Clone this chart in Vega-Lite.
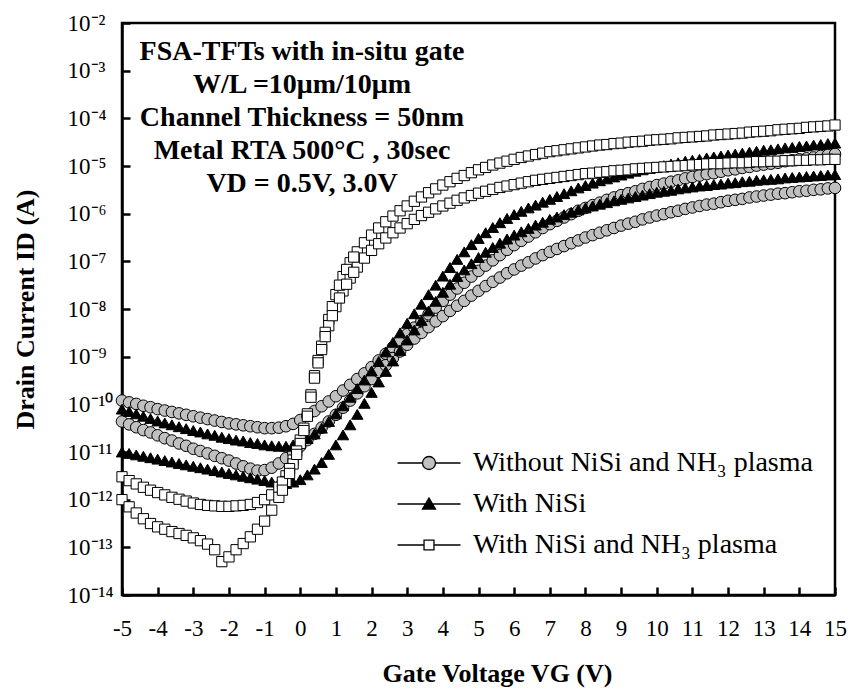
{
  "$schema": "https://vega.github.io/schema/vega-lite/v6.json",
  "width": 713,
  "height": 572,
  "autosize": "none",
  "padding": {"left": 122, "top": 23, "right": 17, "bottom": 100},
  "background": "white",
  "datasets": {
    "iv": [
      {"v":-5,"c3":1.2e-10,"c05":4.37e-11,"t3":7.94e-11,"t05":1e-11,"s3":3.02e-12,"s05":1e-12},
      {"v":-4.8,"c3":1.1e-10,"c05":3.8e-11,"t3":7.08e-11,"t05":9.33e-12,"s3":2.51e-12,"s05":7.08e-13},
      {"v":-4.6,"c3":1.02e-10,"c05":3.31e-11,"t3":6.31e-11,"t05":8.71e-12,"s3":2.14e-12,"s05":5.25e-13},
      {"v":-4.4,"c3":9.33e-11,"c05":2.88e-11,"t3":5.62e-11,"t05":8.13e-12,"s3":1.82e-12,"s05":3.98e-13},
      {"v":-4.2,"c3":8.71e-11,"c05":2.57e-11,"t3":5.01e-11,"t05":7.59e-12,"s3":1.58e-12,"s05":3.16e-13},
      {"v":-4,"c3":7.94e-11,"c05":2.24e-11,"t3":4.47e-11,"t05":7.08e-12,"s3":1.41e-12,"s05":2.69e-13},
      {"v":-3.8,"c3":7.41e-11,"c05":1.95e-11,"t3":4.07e-11,"t05":6.61e-12,"s3":1.26e-12,"s05":2.4e-13},
      {"v":-3.6,"c3":6.92e-11,"c05":1.74e-11,"t3":3.72e-11,"t05":6.17e-12,"s3":1.12e-12,"s05":2.14e-13},
      {"v":-3.4,"c3":6.46e-11,"c05":1.51e-11,"t3":3.39e-11,"t05":5.75e-12,"s3":1.02e-12,"s05":1.95e-13},
      {"v":-3.2,"c3":6.03e-11,"c05":1.35e-11,"t3":3.09e-11,"t05":5.37e-12,"s3":9.33e-13,"s05":1.78e-13},
      {"v":-3,"c3":5.62e-11,"c05":1.17e-11,"t3":2.82e-11,"t05":5.01e-12,"s3":8.51e-13,"s05":1.58e-13},
      {"v":-2.8,"c3":5.25e-11,"c05":1.05e-11,"t3":2.63e-11,"t05":4.68e-12,"s3":7.94e-13,"s05":1.38e-13},
      {"v":-2.6,"c3":4.9e-11,"c05":9.33e-12,"t3":2.4e-11,"t05":4.37e-12,"s3":7.59e-13,"s05":1.17e-13},
      {"v":-2.4,"c3":4.57e-11,"c05":8.32e-12,"t3":2.24e-11,"t05":4.07e-12,"s3":7.41e-13,"s05":8.91e-14},
      {"v":-2.2,"c3":4.27e-11,"c05":7.41e-12,"t3":2.04e-11,"t05":3.8e-12,"s3":7.24e-13,"s05":5.01e-14},
      {"v":-2,"c3":3.98e-11,"c05":6.61e-12,"t3":1.91e-11,"t05":3.55e-12,"s3":7.24e-13,"s05":6.31e-14},
      {"v":-1.8,"c3":3.8e-11,"c05":5.75e-12,"t3":1.78e-11,"t05":3.31e-12,"s3":7.41e-13,"s05":8.91e-14},
      {"v":-1.6,"c3":3.63e-11,"c05":5.01e-12,"t3":1.7e-11,"t05":3.09e-12,"s3":7.59e-13,"s05":1.2e-13},
      {"v":-1.4,"c3":3.47e-11,"c05":4.47e-12,"t3":1.58e-11,"t05":2.88e-12,"s3":7.94e-13,"s05":1.66e-13},
      {"v":-1.2,"c3":3.31e-11,"c05":4.07e-12,"t3":1.51e-11,"t05":2.69e-12,"s3":8.71e-13,"s05":2.4e-13},
      {"v":-1,"c3":3.16e-11,"c05":4.17e-12,"t3":1.41e-11,"t05":2.51e-12,"s3":1e-12,"s05":3.55e-13},
      {"v":-0.8,"c3":3.16e-11,"c05":4.68e-12,"t3":1.35e-11,"t05":2.34e-12,"s3":1.26e-12,"s05":6.03e-13},
      {"v":-0.6,"c3":3.24e-11,"c05":5.75e-12,"t3":1.32e-11,"t05":2.24e-12,"s3":1.82e-12,"s05":1.12e-12},
      {"v":-0.4,"c3":3.47e-11,"c05":7.41e-12,"t3":1.32e-11,"t05":2.19e-12,"s3":3.16e-12,"s05":2.4e-12},
      {"v":-0.2,"c3":3.89e-11,"c05":9.77e-12,"t3":1.41e-11,"t05":2.34e-12,"s3":6.76e-12,"s05":5.62e-12},
      {"v":0,"c3":4.68e-11,"c05":1.32e-11,"t3":1.58e-11,"t05":2.63e-12,"s3":1.78e-11,"s05":1.51e-11},
      {"v":0.2,"c3":5.75e-11,"c05":1.78e-11,"t3":1.91e-11,"t05":3.31e-12,"s3":6.31e-11,"s05":5.62e-11},
      {"v":0.4,"c3":7.24e-11,"c05":2.4e-11,"t3":2.4e-11,"t05":4.37e-12,"s3":3.98e-10,"s05":3.55e-10},
      {"v":0.6,"c3":9.12e-11,"c05":3.24e-11,"t3":3.16e-11,"t05":6.03e-12,"s3":1.66e-9,"s05":1.41e-9},
      {"v":0.8,"c3":1.15e-10,"c05":4.37e-11,"t3":4.37e-11,"t05":8.91e-12,"s3":6.03e-9,"s05":4.47e-9},
      {"v":1,"c3":1.48e-10,"c05":6.03e-11,"t3":6.31e-11,"t05":1.41e-11,"s3":2e-8,"s05":1.12e-8},
      {"v":1.2,"c3":1.95e-10,"c05":8.51e-11,"t3":9.33e-11,"t05":2.29e-11,"s3":4.79e-8,"s05":2.4e-8},
      {"v":1.4,"c3":2.57e-10,"c05":1.2e-10,"t3":1.41e-10,"t05":3.72e-11,"s3":9.33e-8,"s05":4.47e-8},
      {"v":1.6,"c3":3.39e-10,"c05":1.7e-10,"t3":2.14e-10,"t05":6.17e-11,"s3":1.58e-7,"s05":7.59e-8},
      {"v":1.8,"c3":4.47e-10,"c05":2.4e-10,"t3":3.24e-10,"t05":1.05e-10,"s3":2.45e-7,"s05":1.17e-7},
      {"v":2,"c3":6.03e-10,"c05":3.39e-10,"t3":5.01e-10,"t05":1.78e-10,"s3":3.55e-7,"s05":1.7e-7},
      {"v":2.2,"c3":8.32e-10,"c05":4.79e-10,"t3":7.94e-10,"t05":2.95e-10,"s3":5.01e-7,"s05":2.34e-7},
      {"v":2.4,"c3":1.15e-9,"c05":6.61e-10,"t3":1.26e-9,"t05":4.9e-10,"s3":6.76e-7,"s05":3.09e-7},
      {"v":2.6,"c3":1.58e-9,"c05":9.33e-10,"t3":2e-9,"t05":8.13e-10,"s3":8.91e-7,"s05":3.98e-7},
      {"v":2.8,"c3":2.14e-9,"c05":1.29e-9,"t3":3.16e-9,"t05":1.35e-9,"s3":1.15e-6,"s05":5.01e-7},
      {"v":3,"c3":2.95e-9,"c05":1.78e-9,"t3":5.01e-9,"t05":2.24e-9,"s3":1.45e-6,"s05":6.17e-7},
      {"v":3.2,"c3":4.07e-9,"c05":2.4e-9,"t3":7.94e-9,"t05":3.63e-9,"s3":1.82e-6,"s05":7.59e-7},
      {"v":3.4,"c3":5.62e-9,"c05":3.16e-9,"t3":1.26e-8,"t05":5.75e-9,"s3":2.24e-6,"s05":9.12e-7},
      {"v":3.6,"c3":7.76e-9,"c05":4.17e-9,"t3":2e-8,"t05":9.12e-9,"s3":2.75e-6,"s05":1.07e-6},
      {"v":3.8,"c3":1.07e-8,"c05":5.5e-9,"t3":3.16e-8,"t05":1.45e-8,"s3":3.31e-6,"s05":1.26e-6},
      {"v":4,"c3":1.48e-8,"c05":7.08e-9,"t3":4.9e-8,"t05":2.24e-8,"s3":3.98e-6,"s05":1.45e-6},
      {"v":4.2,"c3":2e-8,"c05":9.12e-9,"t3":7.41e-8,"t05":3.31e-8,"s3":4.68e-6,"s05":1.66e-6},
      {"v":4.4,"c3":2.69e-8,"c05":1.17e-8,"t3":1.1e-7,"t05":4.79e-8,"s3":5.5e-6,"s05":1.91e-6},
      {"v":4.6,"c3":3.55e-8,"c05":1.48e-8,"t3":1.58e-7,"t05":6.61e-8,"s3":6.31e-6,"s05":2.14e-6},
      {"v":4.8,"c3":4.79e-8,"c05":1.91e-8,"t3":2.24e-7,"t05":8.91e-8,"s3":7.24e-6,"s05":2.4e-6},
      {"v":5,"c3":6.31e-8,"c05":2.4e-8,"t3":3.02e-7,"t05":1.2e-7,"s3":8.32e-6,"s05":2.69e-6},
      {"v":5.2,"c3":8.13e-8,"c05":3.02e-8,"t3":3.98e-7,"t05":1.55e-7,"s3":9.33e-6,"s05":2.95e-6},
      {"v":5.4,"c3":1.05e-7,"c05":3.72e-8,"t3":5.13e-7,"t05":1.95e-7,"s3":1.05e-5,"s05":3.24e-6},
      {"v":5.6,"c3":1.35e-7,"c05":4.57e-8,"t3":6.46e-7,"t05":2.4e-7,"s3":1.15e-5,"s05":3.55e-6},
      {"v":5.8,"c3":1.74e-7,"c05":5.62e-8,"t3":7.94e-7,"t05":2.95e-7,"s3":1.26e-5,"s05":3.8e-6},
      {"v":6,"c3":2.19e-7,"c05":6.76e-8,"t3":9.55e-7,"t05":3.55e-7,"s3":1.38e-5,"s05":4.07e-6},
      {"v":6.2,"c3":2.69e-7,"c05":8.13e-8,"t3":1.12e-6,"t05":4.17e-7,"s3":1.51e-5,"s05":4.37e-6},
      {"v":6.4,"c3":3.31e-7,"c05":9.55e-8,"t3":1.32e-6,"t05":4.9e-7,"s3":1.62e-5,"s05":4.68e-6},
      {"v":6.6,"c3":4.07e-7,"c05":1.15e-7,"t3":1.51e-6,"t05":5.75e-7,"s3":1.74e-5,"s05":5.01e-6},
      {"v":6.8,"c3":5.01e-7,"c05":1.35e-7,"t3":1.74e-6,"t05":6.61e-7,"s3":1.86e-5,"s05":5.25e-6},
      {"v":7,"c3":6.03e-7,"c05":1.58e-7,"t3":2e-6,"t05":7.59e-7,"s3":2e-5,"s05":5.5e-6},
      {"v":7.2,"c3":7.08e-7,"c05":1.82e-7,"t3":2.29e-6,"t05":8.51e-7,"s3":2.09e-5,"s05":5.75e-6},
      {"v":7.4,"c3":8.32e-7,"c05":2.09e-7,"t3":2.63e-6,"t05":9.55e-7,"s3":2.19e-5,"s05":6.03e-6},
      {"v":7.6,"c3":9.77e-7,"c05":2.4e-7,"t3":3.02e-6,"t05":1.07e-6,"s3":2.29e-5,"s05":6.31e-6},
      {"v":7.8,"c3":1.15e-6,"c05":2.75e-7,"t3":3.47e-6,"t05":1.2e-6,"s3":2.4e-5,"s05":6.61e-6},
      {"v":8,"c3":1.32e-6,"c05":3.16e-7,"t3":3.89e-6,"t05":1.32e-6,"s3":2.51e-5,"s05":6.92e-6},
      {"v":8.2,"c3":1.51e-6,"c05":3.55e-7,"t3":4.37e-6,"t05":1.45e-6,"s3":2.63e-5,"s05":7.08e-6},
      {"v":8.4,"c3":1.7e-6,"c05":3.98e-7,"t3":4.9e-6,"t05":1.58e-6,"s3":2.75e-5,"s05":7.41e-6},
      {"v":8.6,"c3":1.95e-6,"c05":4.47e-7,"t3":5.37e-6,"t05":1.7e-6,"s3":2.82e-5,"s05":7.59e-6},
      {"v":8.8,"c3":2.19e-6,"c05":5.01e-7,"t3":5.89e-6,"t05":1.86e-6,"s3":2.95e-5,"s05":7.94e-6},
      {"v":9,"c3":2.45e-6,"c05":5.62e-7,"t3":6.46e-6,"t05":2e-6,"s3":3.02e-5,"s05":8.13e-6},
      {"v":9.2,"c3":2.69e-6,"c05":6.17e-7,"t3":7.08e-6,"t05":2.14e-6,"s3":3.16e-5,"s05":8.32e-6},
      {"v":9.4,"c3":2.95e-6,"c05":6.76e-7,"t3":7.76e-6,"t05":2.29e-6,"s3":3.24e-5,"s05":8.71e-6},
      {"v":9.6,"c3":3.31e-6,"c05":7.59e-7,"t3":8.32e-6,"t05":2.45e-6,"s3":3.31e-5,"s05":8.91e-6},
      {"v":9.8,"c3":3.63e-6,"c05":8.32e-7,"t3":8.91e-6,"t05":2.63e-6,"s3":3.47e-5,"s05":9.12e-6},
      {"v":10,"c3":3.98e-6,"c05":9.12e-7,"t3":9.55e-6,"t05":2.82e-6,"s3":3.55e-5,"s05":9.33e-6},
      {"v":10.2,"c3":4.27e-6,"c05":9.77e-7,"t3":1.02e-5,"t05":2.95e-6,"s3":3.63e-5,"s05":9.55e-6},
      {"v":10.4,"c3":4.68e-6,"c05":1.07e-6,"t3":1.1e-5,"t05":3.09e-6,"s3":3.72e-5,"s05":9.77e-6},
      {"v":10.6,"c3":5.01e-6,"c05":1.15e-6,"t3":1.17e-5,"t05":3.31e-6,"s3":3.89e-5,"s05":1e-5},
      {"v":10.8,"c3":5.5e-6,"c05":1.26e-6,"t3":1.26e-5,"t05":3.47e-6,"s3":3.98e-5,"s05":1.02e-5},
      {"v":11,"c3":5.89e-6,"c05":1.35e-6,"t3":1.32e-5,"t05":3.63e-6,"s3":4.07e-5,"s05":1.05e-5},
      {"v":11.2,"c3":6.31e-6,"c05":1.45e-6,"t3":1.38e-5,"t05":3.8e-6,"s3":4.17e-5,"s05":1.07e-5},
      {"v":11.4,"c3":6.76e-6,"c05":1.55e-6,"t3":1.48e-5,"t05":3.89e-6,"s3":4.27e-5,"s05":1.1e-5},
      {"v":11.6,"c3":7.08e-6,"c05":1.62e-6,"t3":1.55e-5,"t05":4.07e-6,"s3":4.47e-5,"s05":1.12e-5},
      {"v":11.8,"c3":7.59e-6,"c05":1.74e-6,"t3":1.62e-5,"t05":4.17e-6,"s3":4.57e-5,"s05":1.12e-5},
      {"v":12,"c3":8.13e-6,"c05":1.86e-6,"t3":1.7e-5,"t05":4.37e-6,"s3":4.68e-5,"s05":1.15e-5},
      {"v":12.2,"c3":8.51e-6,"c05":1.95e-6,"t3":1.78e-5,"t05":4.47e-6,"s3":4.79e-5,"s05":1.17e-5},
      {"v":12.4,"c3":9.12e-6,"c05":2.04e-6,"t3":1.86e-5,"t05":4.68e-6,"s3":4.9e-5,"s05":1.17e-5},
      {"v":12.6,"c3":9.55e-6,"c05":2.19e-6,"t3":1.95e-5,"t05":4.79e-6,"s3":5.13e-5,"s05":1.2e-5},
      {"v":12.8,"c3":1.02e-5,"c05":2.29e-6,"t3":2.04e-5,"t05":5.01e-6,"s3":5.25e-5,"s05":1.23e-5},
      {"v":13,"c3":1.07e-5,"c05":2.4e-6,"t3":2.14e-5,"t05":5.13e-6,"s3":5.37e-5,"s05":1.23e-5},
      {"v":13.2,"c3":1.12e-5,"c05":2.51e-6,"t3":2.19e-5,"t05":5.25e-6,"s3":5.5e-5,"s05":1.26e-5},
      {"v":13.4,"c3":1.17e-5,"c05":2.63e-6,"t3":2.29e-5,"t05":5.37e-6,"s3":5.75e-5,"s05":1.26e-5},
      {"v":13.6,"c3":1.26e-5,"c05":2.69e-6,"t3":2.4e-5,"t05":5.62e-6,"s3":5.89e-5,"s05":1.29e-5},
      {"v":13.8,"c3":1.32e-5,"c05":2.82e-6,"t3":2.45e-5,"t05":5.75e-6,"s3":6.03e-5,"s05":1.29e-5},
      {"v":14,"c3":1.38e-5,"c05":2.95e-6,"t3":2.57e-5,"t05":5.89e-6,"s3":6.17e-5,"s05":1.32e-5},
      {"v":14.2,"c3":1.45e-5,"c05":3.02e-6,"t3":2.63e-5,"t05":6.03e-6,"s3":6.46e-5,"s05":1.32e-5},
      {"v":14.4,"c3":1.51e-5,"c05":3.16e-6,"t3":2.75e-5,"t05":6.17e-6,"s3":6.61e-5,"s05":1.35e-5},
      {"v":14.6,"c3":1.62e-5,"c05":3.24e-6,"t3":2.82e-5,"t05":6.31e-6,"s3":6.76e-5,"s05":1.35e-5},
      {"v":14.8,"c3":1.7e-5,"c05":3.39e-6,"t3":2.95e-5,"t05":6.46e-6,"s3":6.92e-5,"s05":1.38e-5},
      {"v":15,"c3":1.78e-5,"c05":3.47e-6,"t3":3.02e-5,"t05":6.61e-6,"s3":7.24e-5,"s05":1.38e-5},
      {"v":-0.5,"s3":2.34e-12,"s05":1.58e-12},
      {"v":-0.3,"s3":4.47e-12,"s05":3.55e-12},
      {"v":-0.1,"s3":1.05e-11,"s05":8.91e-12},
      {"v":0.1,"s3":3.16e-11,"s05":2.82e-11},
      {"v":0.3,"s3":1.58e-10,"s05":1.41e-10},
      {"v":0.5,"s3":8.32e-10,"s05":7.41e-10},
      {"v":0.7,"s3":3.24e-9,"s05":2.63e-9},
      {"v":0.9,"s3":1.12e-8,"s05":7.24e-9},
      {"v":1.1,"s3":3.16e-8,"s05":1.7e-8},
      {"v":1.3,"s3":6.76e-8,"s05":3.31e-8},
      {"v":1.5,"s3":1.23e-7,"s05":5.89e-8}
    ]
  },
  "title": {
    "text": ["FSA-TFTs with in-situ gate", "W/L =10μm/10μm", "Channel Thickness = 50nm", "Metal RTA 500°C , 30sec", "VD = 0.5V, 3.0V"],
    "anchor": "start",
    "frame": "group",
    "orient": "top",
    "align": "center",
    "baseline": "top",
    "offset": 0,
    "dx": 180,
    "dy": 186,
    "lineHeight": 33,
    "font": "Liberation Serif",
    "fontSize": 28,
    "fontWeight": "bold",
    "color": "black"
  },
  "encoding": {
    "x": {
      "field": "v",
      "type": "quantitative",
      "scale": {"domain": [-5, 15], "nice": false, "zero": false},
      "axis": {
        "title": "Gate Voltage VG (V)",
        "titleX": 375,
        "values": [-5,-4,-3,-2,-1,0,1,2,3,4,5,6,7,8,9,10,11,12,13,14,15],
        "labelExpr": "'' + datum.value",
        "labelFont": "Liberation Serif",
        "labelFontSize": 23,
        "labelPadding": 30,
        "titlePadding": 20,
        "labelFlush": false,
        "labelOverlap": false
      }
    },
    "y": {
      "field": "I",
      "type": "quantitative",
      "scale": {"type": "log", "domain": [1e-14, 0.01], "nice": false},
      "axis": {
        "title": "Drain Current ID (A)",
        "values": [1e-14,1e-13,1e-12,1e-11,1e-10,1e-9,1e-8,1e-7,1e-6,1e-5,1e-4,1e-3,0.01],
        "labelExpr": "'10' + ['⁻²','⁻³','⁻⁴','⁻⁵','⁻⁶','⁻⁷','⁻⁸','⁻⁹','⁻¹⁰','⁻¹¹','⁻¹²','⁻¹³','⁻¹⁴'][round(-log(datum.value)/LN10) - 2]",
        "labelFont": "Liberation Serif",
        "labelFontSize": 23,
        "labelAlign": "left",
        "labelBaseline": "middle",
        "labelPadding": 63,
        "titlePadding": 29,
        "labelOverlap": false
      }
    },
    "detail": {"field": "curve"}
  },
  "layer": [
    {
      "data": {"name": "iv"},
      "transform": [{"fold": ["c3", "c05"], "as": ["curve", "I"]}],
      "mark": {"type": "point", "shape": "circle", "filled": true, "fill": "#c0c0c0", "size": 135, "stroke": "black", "strokeWidth": 1, "opacity": 1}
    },
    {
      "data": {"name": "iv"},
      "transform": [{"fold": ["t3", "t05"], "as": ["curve", "I"]}],
      "mark": {"type": "point", "shape": "triangle-up", "filled": true, "fill": "black", "size": 130, "stroke": "black", "strokeWidth": 1, "opacity": 1}
    },
    {
      "data": {"name": "iv"},
      "transform": [{"fold": ["s3", "s05"], "as": ["curve", "I"]}],
      "mark": {"type": "point", "shape": "square", "filled": true, "fill": "white", "size": 105, "stroke": "black", "strokeWidth": 1, "opacity": 1}
    },
    {
      "data": {"values": [{"dev": "Without NiSi and NH₃ plasma"}, {"dev": "With NiSi"}, {"dev": "With NiSi and NH₃ plasma"}]},
      "transform": [{"filter": "false"}],
      "mark": {"type": "point", "filled": true, "size": 196, "strokeWidth": 1.3, "opacity": 1},
      "encoding": {
        "x": {"datum": 0},
        "y": {"datum": 1e-10},
        "detail": {"value": null},
        "shape": {
          "field": "dev",
          "type": "nominal",
          "scale": {
            "domain": ["Without NiSi and NH₃ plasma", "With NiSi", "With NiSi and NH₃ plasma"],
            "range": [
              "M-4.5,0L-0.93,0M0.93,0L4.5,0M-0.93,0A0.93,0.93,0,1,1,0.93,0A0.93,0.93,0,1,1,-0.93,0Z",
              "M-4.5,0L4.5,0M-0.93,0.72L0.93,0.72L0,-0.85Z",
              "M-4.5,0L-0.71,0M0.71,0L4.5,0M-0.71,-0.71L0.71,-0.71L0.71,0.71L-0.71,0.71Z"
            ]
          },
          "legend": {
            "title": null,
            "orient": "none",
            "legendX": 293,
            "legendY": 426,
            "padding": 0,
            "symbolSize": 196,
            "symbolStrokeWidth": 1.3,
            "symbolOpacity": 1,
            "labelFont": "Liberation Serif",
            "labelFontSize": 28,
            "labelColor": "black",
            "labelOffset": 30,
            "labelLimit": 0,
            "rowPadding": 13
          }
        },
        "fill": {
          "field": "dev",
          "type": "nominal",
          "scale": {
            "domain": ["Without NiSi and NH₃ plasma", "With NiSi", "With NiSi and NH₃ plasma"],
            "range": ["#c0c0c0", "black", "white"]
          },
          "legend": {
            "title": null,
            "orient": "none",
            "legendX": 293,
            "legendY": 426,
            "padding": 0,
            "symbolSize": 196,
            "symbolStrokeWidth": 1.3,
            "symbolOpacity": 1,
            "labelFont": "Liberation Serif",
            "labelFontSize": 28,
            "labelColor": "black",
            "labelOffset": 30,
            "labelLimit": 0,
            "rowPadding": 13
          }
        },
        "stroke": {
          "field": "dev",
          "type": "nominal",
          "scale": {
            "domain": ["Without NiSi and NH₃ plasma", "With NiSi", "With NiSi and NH₃ plasma"],
            "range": ["black", "black", "black"]
          },
          "legend": {
            "title": null,
            "orient": "none",
            "legendX": 293,
            "legendY": 426,
            "padding": 0,
            "symbolSize": 196,
            "symbolStrokeWidth": 1.3,
            "symbolOpacity": 1,
            "labelFont": "Liberation Serif",
            "labelFontSize": 28,
            "labelColor": "black",
            "labelOffset": 30,
            "labelLimit": 0,
            "rowPadding": 13
          }
        }
      }
    }
  ],
  "config": {
    "view": {"stroke": "black", "strokeWidth": 2.5},
    "font": "Liberation Serif",
    "axis": {
      "grid": false,
      "domainColor": "black",
      "domainWidth": 2.5,
      "tickColor": "black",
      "tickWidth": 2.5,
      "tickSize": -8,
      "labelColor": "black",
      "titleColor": "black",
      "labelFont": "Liberation Serif",
      "titleFont": "Liberation Serif",
      "labelFontSize": 23,
      "titleFontSize": 26,
      "titleFontWeight": "bold"
    }
  }
}
